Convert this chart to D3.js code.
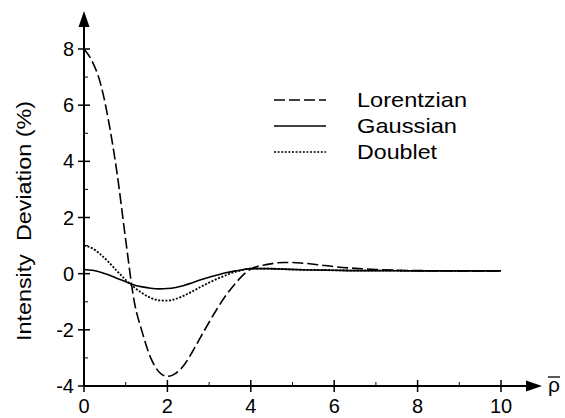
<!DOCTYPE html>
<html>
<head>
<meta charset="utf-8">
<script src="https://cdn.jsdelivr.net/npm/d3@7"></script>
<style>
	body { margin: 0; background: #fff; }
	svg { display: block; }
	text { font-family: "Liberation Sans", Arial, sans-serif; fill: #000; }
</style>
</head>
<body>
<svg id="chart" width="565" height="418"></svg>
<script>
// sample positions along rho-bar
var rho = [0, 0.2, 0.4, 0.6, 0.8, 1.0, 1.2, 1.4, 1.6, 1.8, 2.0, 2.2, 2.4, 2.6, 2.8, 3.0,
	3.2, 3.4, 3.6, 3.8, 4.0, 4.4, 4.8, 5.2, 5.6, 6.0, 6.5, 7, 8, 9, 10];

var lorentzian = [8.0, 7.55, 6.75, 5.35, 3.5, 1.2, -0.95, -2.1, -3.0, -3.5, -3.66, -3.55, -3.25,
	-2.78, -2.25, -1.73, -1.23, -0.78, -0.40, -0.07, 0.16, 0.33, 0.40, 0.38, 0.32, 0.25, 0.19,
	0.15, 0.11, 0.10, 0.10];

var gaussian = [0.15, 0.12, 0.05, -0.05, -0.17, -0.29, -0.40, -0.47, -0.52, -0.54, -0.53, -0.49,
	-0.42, -0.32, -0.22, -0.13, -0.05, 0.03, 0.09, 0.14, 0.18, 0.18, 0.16, 0.14, 0.13, 0.12, 0.11,
	0.11, 0.10, 0.10, 0.10];

var doublet = [1.0, 0.9, 0.68, 0.4, 0.08, -0.22, -0.48, -0.7, -0.86, -0.95, -0.96, -0.9, -0.78,
	-0.63, -0.47, -0.32, -0.18, -0.06, 0.05, 0.13, 0.18, 0.18, 0.16, 0.14, 0.13, 0.12, 0.11, 0.11,
	0.10, 0.10, 0.10];

var xTicks = [0, 2, 4, 6, 8, 10];
var xMinor = [1, 3, 5, 7, 9];
var yTicks = [-4, -2, 0, 2, 4, 6, 8];
var yMinor = [-3, -1, 1, 3, 5, 7];

var series = [
	{ name: 'Lorentzian', values: lorentzian, dash: '11,4', width: 110 },
	{ name: 'Gaussian', values: gaussian, dash: null, width: 100 },
	{ name: 'Doublet', values: doublet, dash: '2,1.6', width: 80 }
];

var svg = d3.select('#chart');

var x = d3.scaleLinear().domain([0, 10]).range([84, 501]);
var y = d3.scaleLinear().domain([-4, 8]).range([386, 49]);

// axes lines with arrows
svg.append('line')
	.attr('x1', x(0)).attr('x2', 530).attr('y1', y(-4)).attr('y2', y(-4))
	.attr('stroke', '#000').attr('stroke-width', 2);
svg.append('path')
	.attr('d', 'M542,' + y(-4) + 'L526,' + (y(-4) - 5.5) + 'L526,' + (y(-4) + 5.5) + 'Z')
	.attr('fill', '#000');

svg.append('line')
	.attr('x1', x(0)).attr('x2', x(0)).attr('y1', y(-4)).attr('y2', 24)
	.attr('stroke', '#000').attr('stroke-width', 2);
svg.append('path')
	.attr('d', 'M' + x(0) + ',11L' + (x(0) - 5.5) + ',27L' + (x(0) + 5.5) + ',27Z')
	.attr('fill', '#000');

// x ticks
svg.selectAll('line.xmaj').data(xTicks).enter().append('line')
	.attr('class', 'xmaj')
	.attr('x1', function(d) { return x(d); }).attr('x2', function(d) { return x(d); })
	.attr('y1', y(-4) - 6).attr('y2', y(-4) + 6)
	.attr('stroke', '#000').attr('stroke-width', 1.5);
svg.selectAll('line.xmin').data(xMinor).enter().append('line')
	.attr('class', 'xmin')
	.attr('x1', function(d) { return x(d); }).attr('x2', function(d) { return x(d); })
	.attr('y1', y(-4) - 4).attr('y2', y(-4))
	.attr('stroke', '#000').attr('stroke-width', 1);
svg.selectAll('text.xlab').data(xTicks).enter().append('text')
	.attr('class', 'xlab')
	.attr('x', function(d) { return x(d); }).attr('y', 413)
	.attr('text-anchor', 'middle').attr('font-size', 20)
	.text(function(d) { return d; });

// y ticks
svg.selectAll('line.ymaj').data(yTicks).enter().append('line')
	.attr('class', 'ymaj')
	.attr('y1', function(d) { return y(d); }).attr('y2', function(d) { return y(d); })
	.attr('x1', x(0) - 6).attr('x2', x(0) + 6)
	.attr('stroke', '#000').attr('stroke-width', 1.5);
svg.selectAll('line.ymin').data(yMinor).enter().append('line')
	.attr('class', 'ymin')
	.attr('y1', function(d) { return y(d); }).attr('y2', function(d) { return y(d); })
	.attr('x1', x(0)).attr('x2', x(0) + 4)
	.attr('stroke', '#000').attr('stroke-width', 1);
svg.selectAll('text.ylab').data(yTicks).enter().append('text')
	.attr('class', 'ylab')
	.attr('x', 74).attr('y', function(d) { return y(d) + 7; })
	.attr('text-anchor', 'end').attr('font-size', 20)
	.text(function(d) { return d; });

// axis titles
svg.append('text')
	.attr('transform', 'translate(31,221) rotate(-90)')
	.attr('text-anchor', 'middle').attr('font-size', 21)
	.attr('textLength', 240).attr('lengthAdjust', 'spacingAndGlyphs')
	.style('white-space', 'pre')
	.text('Intensity  Deviation (%)');

svg.append('text')
	.attr('x', 548).attr('y', 392).attr('font-size', 21)
	.text('\u03c1');
svg.append('line')
	.attr('x1', 548).attr('x2', 560).attr('y1', 377).attr('y2', 377)
	.attr('stroke', '#000').attr('stroke-width', 1.3);

// curves
var line = d3.line()
	.x(function(d) { return x(d[0]); })
	.y(function(d) { return y(d[1]); })
	.curve(d3.curveMonotoneX);

series.forEach(function(s) {
	svg.append('path')
		.datum(rho.map(function(r, i) { return [r, s.values[i]]; }))
		.attr('d', line)
		.attr('fill', 'none').attr('stroke', '#000')
		.attr('stroke-width', s.dash === '2,1.6' ? 1.8 : 1.6)
		.attr('stroke-dasharray', s.dash);
});

// legend
var legend = svg.selectAll('g.legend').data(series).enter().append('g')
	.attr('class', 'legend')
	.attr('transform', function(d, i) { return 'translate(274,' + (100 + i * 26) + ')'; });
legend.append('line')
	.attr('x1', 0).attr('x2', 52).attr('y1', 0).attr('y2', 0)
	.attr('stroke', '#000').attr('stroke-width', 1.6)
	.attr('stroke-dasharray', function(d) { return d.dash; });
legend.append('text')
	.attr('x', 83).attr('y', 7).attr('font-size', 21)
	.attr('textLength', function(d) { return d.width; })
	.attr('lengthAdjust', 'spacingAndGlyphs')
	.text(function(d) { return d.name; });
</script>
</body>
</html>
